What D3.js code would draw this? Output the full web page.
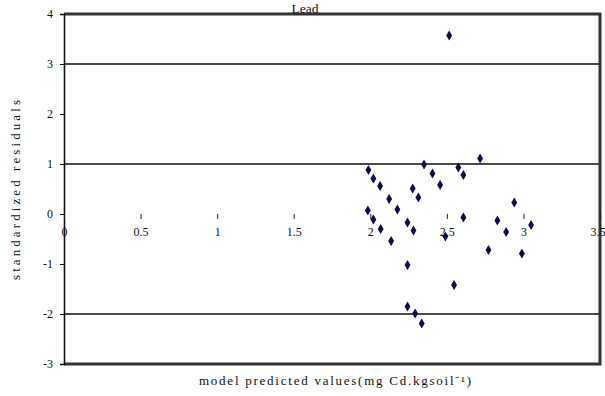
<!DOCTYPE html>
<html>
<head>
<meta charset="utf-8">
<script src="https://cdn.jsdelivr.net/npm/d3@7"></script>
<style>
  html, body { margin: 0; padding: 0; background: #fff; }
  svg { display: block; }
  svg text { font-family: "Times New Roman", "Liberation Serif", "DejaVu Serif", serif; fill: #111; }
</style>
</head>
<body>
<svg id="chart" width="605" height="396"></svg>
<script>
// Model predicted values (mg Cd/kg soil)
const predicted = [
  2.515, 2.717, 2.351, 2.575, 2.608, 1.988, 2.020, 2.064, 2.406, 2.456, 2.277,
  2.314, 2.123, 2.177, 1.984, 2.020, 2.243, 2.068, 2.282, 2.608, 2.830, 2.940,
  3.050, 2.887, 2.136, 2.772, 2.990, 2.243, 2.547, 2.243, 2.293, 2.336, 2.490
];
// Standardized residuals for each prediction
const residuals = [
  3.57, 1.11, 0.99, 0.93, 0.78, 0.88, 0.71, 0.56, 0.81, 0.58, 0.51,
  0.33, 0.30, 0.09, 0.07, -0.11, -0.17, -0.30, -0.33, -0.07, -0.13, 0.23,
  -0.22, -0.36, -0.54, -0.72, -0.79, -1.02, -1.42, -1.85, -1.99, -2.19, -0.45
];
const xTicks = [0, 0.5, 1, 1.5, 2, 2.5, 3, 3.5];
const xTickLabels = ["0", "0.5", "1", "1.5", "2", "2.5", "3", "3.5"];
const yTicks = [4, 3, 2, 1, 0, -1, -2, -3];
const gridValues = [3, 1, -2];

const svg = d3.select("#chart");
const plotLeft = 64, plotRight = 600, plotTop = 14, plotBottom = 364;
const serif = "'Times New Roman', 'Liberation Serif', serif";

const x = d3.scaleLinear().domain([0, 3.5]).range([plotLeft, plotRight]);
const y = d3.scaleLinear().domain([-3, 4]).range([plotBottom, plotTop]);

// Title
svg.append("text")
  .attr("x", 305).attr("y", 12.5)
  .attr("text-anchor", "middle")
  .style("font-family", serif)
  .style("font-size", "13.5px")
  .text("Lead");

// Horizontal reference lines
svg.append("g").selectAll("line").data(gridValues).join("line")
  .attr("x1", plotLeft).attr("x2", plotRight)
  .attr("y1", d => y(d)).attr("y2", d => y(d))
  .attr("stroke", "#111").attr("stroke-width", 1.6);

// Plot frame: top, right and bottom edges
svg.append("path")
  .attr("d", `M${plotLeft},${plotTop}H${plotRight}V${plotBottom}H${plotLeft}`)
  .attr("fill", "none")
  .attr("stroke", "#333").attr("stroke-width", 3);

// Y axis
const yAxis = d3.axisLeft(y).tickValues(yTicks).tickSize(4).tickFormat(d3.format("d"));
const gy = svg.append("g").attr("transform", `translate(${plotLeft},0)`).call(yAxis);
gy.attr("font-family", null).attr("font-size", null);
gy.select(".domain").attr("stroke", "#111").attr("stroke-width", 1.6);
gy.selectAll(".tick line").attr("stroke", "#111");
gy.selectAll(".tick text")
  .attr("x", -11)
  .style("font-family", serif)
  .style("font-size", "12px")
  .text(d => d < 0 ? "-" + Math.abs(d) : d);

// X axis crossing at zero (axis line itself is not drawn)
const xAxis = d3.axisBottom(x).tickValues(xTicks).tickSize(5)
  .tickFormat((d, i) => xTickLabels[i]);
const gx = svg.append("g").attr("transform", `translate(0,${y(0)})`).call(xAxis);
gx.attr("font-family", null).attr("font-size", null);
gx.select(".domain").remove();
gx.selectAll(".tick line").attr("stroke", "#222");
gx.selectAll(".tick text")
  .attr("y", 13)
  .style("font-family", serif)
  .style("font-size", "12px")
  .attr("text-anchor", d => d === 3.5 ? "end" : "middle")
  .attr("dx", d => d === 3.5 ? 5 : 0);

// Data points
const pts = predicted.map((p, i) => ({ p, r: residuals[i] }));
svg.append("g").selectAll("path").data(pts).join("path")
  .attr("transform", d => `translate(${x(d.p)},${y(d.r)})`)
  .attr("d", d3.symbol().type(d3.symbolDiamond).size(30))
  .attr("fill", "#0b0b4a");

// Axis titles
svg.append("text")
  .attr("x", 335).attr("y", 385)
  .attr("text-anchor", "middle")
  .attr("textLength", 272).attr("lengthAdjust", "spacing")
  .style("font-family", serif)
  .style("font-size", "13px")
  .text("model predicted values(mg Cd.kgsoil\u207B\u00B9)");

svg.append("text")
  .attr("transform", "translate(20,190) rotate(-90)")
  .attr("text-anchor", "middle")
  .attr("textLength", 180).attr("lengthAdjust", "spacing")
  .style("font-family", serif)
  .style("font-size", "13px")
  .text("standardized residuals");
</script>
</body>
</html>
